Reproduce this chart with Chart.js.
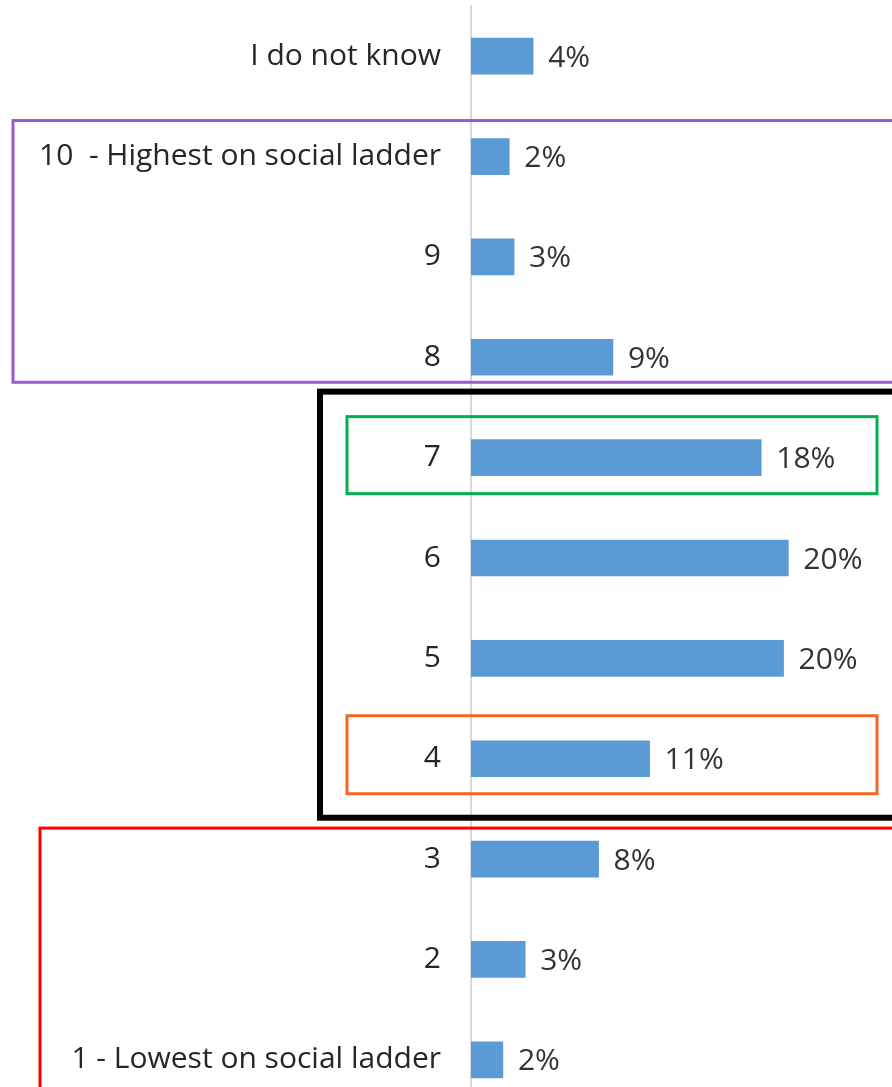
<!DOCTYPE html>
<html>
<head>
<meta charset="utf-8">
<script src="https://cdn.jsdelivr.net/npm/chart.js@4"></script>
<style>
  html, body { margin: 0; padding: 0; background: #fff; overflow: hidden; }
  canvas { display: block; }
</style>
</head>
<body>
<canvas id="myChart" width="892" height="1110"></canvas>
<script>
const categories = [
  "I do not know",
  "10  - Highest on social ladder",
  "9",
  "8",
  "7",
  "6",
  "5",
  "4",
  "3",
  "2",
  "1 - Lowest on social ladder",
];
const shares = [3.9, 2.4, 2.7, 8.9, 18.2, 19.9, 19.6, 11.2, 8.0, 3.4, 2.0];

// highlight frames: first/last category index, offsets from band centre
const frames = [
  { from: 1, to: 3, top: -36, bottom: 25, left: 13, right: 900, color: "#9b59d0", width: 3 },
  { from: 4, to: 7, top: -66, bottom: 59, left: 320, right: 900, color: "#000000", width: 6 },
  { from: 4, to: 4, top: -41, bottom: 36, left: 347, right: 877, color: "#00b050", width: 3 },
  { from: 7, to: 7, top: -43, bottom: 35, left: 347, right: 877, color: "#f26522", width: 3 },
  { from: 8, to: 10, top: -31, bottom: 80, left: 40, right: 900, color: "#ff0000", width: 3 },
];

const FONT = "'Open Sans', 'DejaVu Sans', sans-serif";

const valueLabels = {
  id: "valueLabels",
  afterDatasetsDraw(chart) {
    const ctx = chart.ctx;
    const meta = chart.getDatasetMeta(0);
    ctx.save();
    ctx.font = "30px " + FONT;
    ctx.fillStyle = "#333333";
    ctx.textBaseline = "middle";
    meta.data.forEach((bar, i) => {
      ctx.fillText(Math.round(shares[i]) + "%", bar.x + 15, bar.y + 2);
    });
    ctx.restore();
  },
};

const frameBoxes = {
  id: "frameBoxes",
  afterDraw(chart) {
    const ctx = chart.ctx;
    const y = chart.scales.y;
    ctx.save();
    frames.forEach((f) => {
      const top = y.getPixelForValue(f.from) + f.top;
      const bottom = y.getPixelForValue(f.to) + f.bottom;
      ctx.strokeStyle = f.color;
      ctx.lineWidth = f.width;
      ctx.strokeRect(f.left, top, f.right - f.left, bottom - top);
    });
    ctx.restore();
  },
};

function renderChart() {
  const ctx = document.getElementById("myChart");
  new Chart(ctx, {
    type: "bar",
    data: {
      labels: categories,
      datasets: [
        {
          data: shares,
          backgroundColor: "#5b9bd5",
          barThickness: 36,
        },
      ],
    },
    options: {
      indexAxis: "y",
      responsive: false,
      animation: false,
      layout: { padding: { top: 6, left: 0, right: 0, bottom: 0 } },
      plugins: { legend: { display: false }, tooltip: { enabled: false } },
      scales: {
        x: { display: false, min: 0, max: 26.4 },
        y: {
          // fixed axis position; tick padding should not eat vertical room
          afterFit: (scale) => {
            scale.width = 471;
            scale.paddingTop = 0;
            scale.paddingBottom = 0;
          },
          grid: { display: false, drawTicks: false },
          border: { display: true, color: "#d9d9d9", width: 2 },
          ticks: {
            padding: 30,
            color: "#262626",
            font: { family: FONT, size: 30 },
          },
        },
      },
    },
    plugins: [valueLabels, frameBoxes],
  });
}

window.onload = renderChart;
</script>
</body>
</html>
